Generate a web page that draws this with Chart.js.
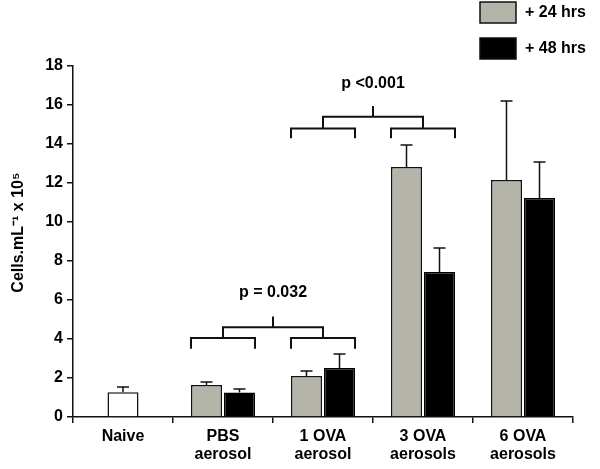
<!DOCTYPE html>
<html>
<head>
<meta charset="utf-8">
<script src="https://cdn.jsdelivr.net/npm/chart.js@4"></script>
<style>
  body { margin: 0; background: #fff; }
  canvas { display: block; }
</style>
</head>
<body>
<canvas id="myChart" width="600" height="469"></canvas>
<script>
const categories = [["Naive"], ["PBS", "aerosol"], ["1 OVA", "aerosol"], ["3 OVA", "aerosols"], ["6 OVA", "aerosols"]];
const seriesLabels = ["Naive", "+ 24 hrs", "+ 48 hrs"];

const naiveValues = [1.27, null, null, null, null];
const naiveErrors = [0.27, null, null, null, null];
const hrs24Values = [null, 1.64, 2.10, 12.82, 12.15];
const hrs24Errors = [null, 0.15, 0.26, 1.13, 4.05];
const hrs48Values = [null, 1.26, 2.51, 7.44, 11.23];
const hrs48Errors = [null, 0.18, 0.72, 1.23, 1.85];

const yMin = 0, yMax = 18, yStep = 2;

// significance brackets: which categories, and heights in data units
const sigTests = [
    { label: "p = 0.032", groups: [1, 2], legY: 3.5, armY: 4.05, joinY: 4.6, topY: 5.15, textY: 6.4 },
    { label: "p <0.001", groups: [2, 3], legY: 14.3, armY: 14.8, joinY: 15.4, topY: 15.95, textY: 17.1 }
];

const FONT = "'Liberation Sans', Arial, sans-serif";
Chart.defaults.font.family = FONT;
Chart.defaults.color = "#000";

const errorBars = {
    id: "errorBars",
    afterDatasetsDraw(chart) {
        const ctx = chart.ctx;
        const y = chart.scales.y;
        ctx.save();
        ctx.strokeStyle = "#111";
        ctx.lineWidth = 1.5;
        chart.data.datasets.forEach((ds, i) => {
            const meta = chart.getDatasetMeta(i);
            meta.data.forEach((bar, j) => {
                const v = ds.data[j];
                const e = ds.errors[j];
                if (v == null || e == null) return;
                const top = y.getPixelForValue(v + e);
                ctx.beginPath();
                ctx.moveTo(bar.x, bar.y);
                ctx.lineTo(bar.x, top);
                ctx.moveTo(bar.x - 6, top);
                ctx.lineTo(bar.x + 6, top);
                ctx.stroke();
            });
        });
        ctx.restore();
    }
};

const brackets = {
    id: "brackets",
    afterDraw(chart) {
        const ctx = chart.ctx;
        const y = chart.scales.y;
        const m24 = chart.getDatasetMeta(1);
        const m48 = chart.getDatasetMeta(2);
        ctx.save();
        ctx.strokeStyle = "#111";
        ctx.lineWidth = 2;
        ctx.fillStyle = "#000";
        ctx.font = "bold 16px " + FONT;
        ctx.textAlign = "center";
        ctx.textBaseline = "middle";
        sigTests.forEach(t => {
            const mids = t.groups.map(g => {
                const l = m24.data[g].x - m24.data[g].width / 2;
                const r = m48.data[g].x + m48.data[g].width / 2;
                ctx.beginPath();
                ctx.moveTo(l, y.getPixelForValue(t.legY));
                ctx.lineTo(l, y.getPixelForValue(t.armY));
                ctx.lineTo(r, y.getPixelForValue(t.armY));
                ctx.lineTo(r, y.getPixelForValue(t.legY));
                ctx.stroke();
                return (l + r) / 2;
            });
            ctx.beginPath();
            ctx.moveTo(mids[0], y.getPixelForValue(t.armY));
            ctx.lineTo(mids[0], y.getPixelForValue(t.joinY));
            ctx.lineTo(mids[1], y.getPixelForValue(t.joinY));
            ctx.lineTo(mids[1], y.getPixelForValue(t.armY));
            const c = (mids[0] + mids[1]) / 2;
            ctx.moveTo(c, y.getPixelForValue(t.joinY));
            ctx.lineTo(c, y.getPixelForValue(t.topY));
            ctx.stroke();
            ctx.fillText(t.label, c, y.getPixelForValue(t.textY));
        });
        ctx.restore();
    }
};

// legend in the top right corner, stacked
const boxLegend = {
    id: "boxLegend",
    afterDraw(chart) {
        const ctx = chart.ctx;
        ctx.save();
        ctx.font = "bold 16px " + FONT;
        ctx.textBaseline = "middle";
        ctx.lineWidth = 1.5;
        [1, 2].forEach((i, k) => {
            const ds = chart.data.datasets[i];
            const top = 2 + k * 36;
            ctx.fillStyle = ds.backgroundColor;
            ctx.fillRect(480, top, 36, 21);
            ctx.strokeStyle = "#111";
            ctx.strokeRect(480, top, 36, 21);
            ctx.fillStyle = "#000";
            ctx.fillText(ds.label, 525, top + 11);
        });
        ctx.restore();
    }
};

const ctx = document.getElementById("myChart");

new Chart(ctx, {
    type: "bar",
    data: {
        labels: categories,
        datasets: [
            {
                label: seriesLabels[0],
                data: naiveValues,
                errors: naiveErrors,
                backgroundColor: "#ffffff",
                borderColor: "#111",
                borderWidth: 1.5,
                barPercentage: 0.47,
                skipNull: true
            },
            {
                label: seriesLabels[1],
                data: hrs24Values,
                errors: hrs24Errors,
                backgroundColor: "#b4b4a9",
                borderColor: "#111",
                borderWidth: 1.5,
                barPercentage: 0.94,
                skipNull: true
            },
            {
                label: seriesLabels[2],
                data: hrs48Values,
                errors: hrs48Errors,
                backgroundColor: "#000000",
                borderColor: "#000",
                borderWidth: 1.5,
                barPercentage: 0.94,
                skipNull: true
            }
        ]
    },
    options: {
        responsive: false,
        animation: false,
        layout: { padding: { top: 66, right: 27, left: 0, bottom: 0 } },
        datasets: { bar: { categoryPercentage: 0.66 } },
        plugins: {
            legend: { display: false },
            tooltip: { enabled: false }
        },
        scales: {
            x: {
                grid: { drawOnChartArea: false, drawTicks: true, tickLength: 6, color: "#111", lineWidth: 1.5 },
                border: { color: "#111", width: 1.5 },
                ticks: { font: { size: 16, weight: "bold", lineHeight: "18px" }, padding: 5, maxRotation: 0 },
                afterFit: scale => { scale.height = 52; }
            },
            y: {
                min: yMin,
                max: yMax,
                grid: { drawOnChartArea: false, drawTicks: true, tickLength: 6, color: "#111", lineWidth: 1.5 },
                border: { color: "#111", width: 1.5 },
                ticks: { stepSize: yStep, font: { size: 16, weight: "bold" }, padding: 4 },
                title: {
                    display: true,
                    // leading spaces lift the centred label a little
                    text: "    Cells.mL\u207B\u00B9 x 10\u2075",
                    font: { size: 16, weight: "bold" },
                    padding: { top: 9, bottom: 0 }
                },
                afterFit: scale => { scale.width = 73; }
            }
        }
    },
    plugins: [errorBars, brackets, boxLegend]
});
</script>
</body>
</html>
